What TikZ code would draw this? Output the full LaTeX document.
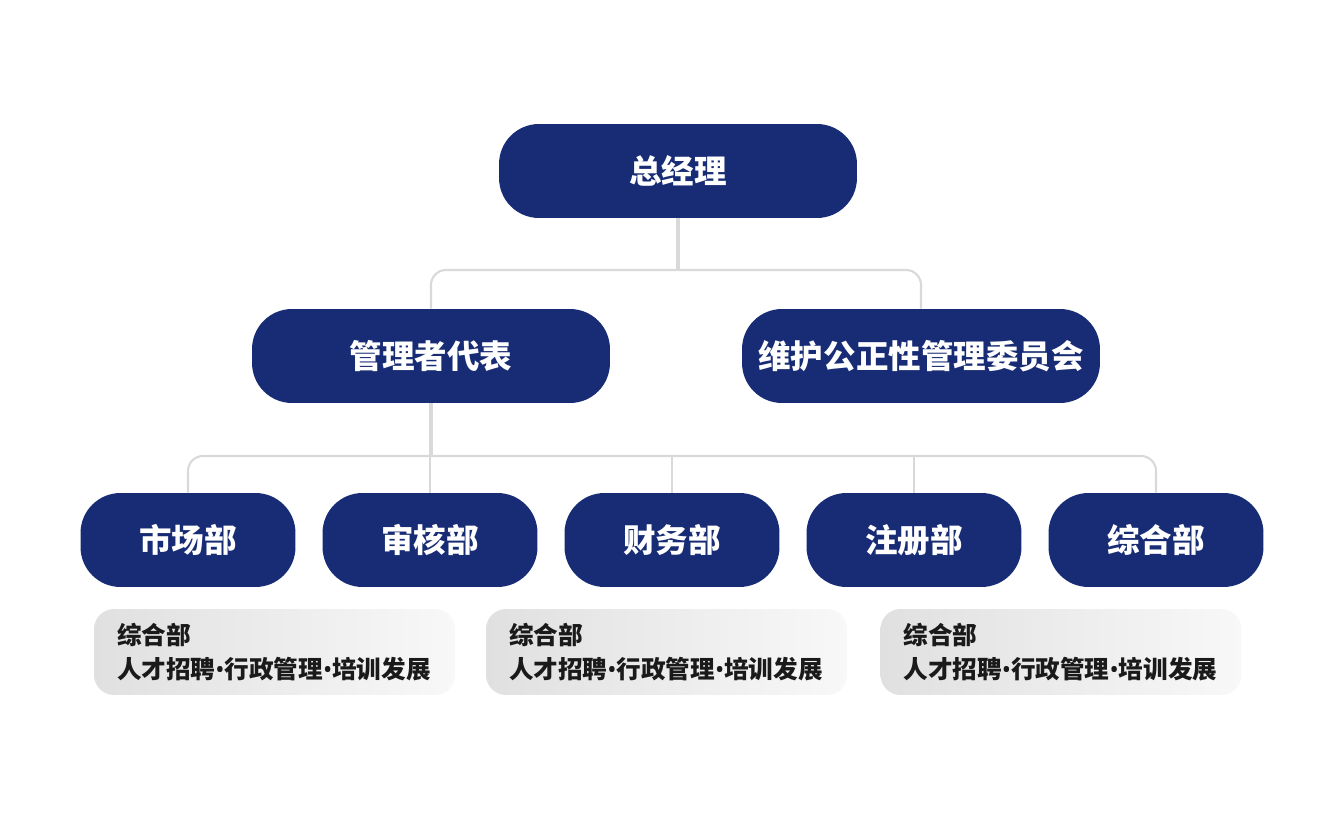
\documentclass[tikz,border=0pt]{standalone}
\usepackage{fontspec}
\newfontfamily\cjk{Noto Sans CJK SC}
\newfontfamily\latin{Noto Sans}
\newcommand{\dotsep}{{\latin\bfseries •}}
\definecolor{navyA}{RGB}{23, 44, 116}
\definecolor{lineA}{RGB}{217, 217, 217}
\definecolor{greyL}{RGB}{224, 224, 224}
\definecolor{greyR}{RGB}{248, 248, 248}
\definecolor{inkA} {RGB}{26, 26, 26}
\tikzset{
  unit/.style={rounded corners=0.8cm, fill=navyA, text=white, inner sep=0pt,
    minimum height=1.88cm, font=\cjk\bfseries\fontsize{18.5pt}{22pt}\selectfont},
  head/.style={unit, minimum width=7.16cm},
  dept/.style={unit, minimum width=4.3cm},
  note/.style={rounded corners=0.4cm, left color=greyL, right color=greyR, draw=none,
    text=inkA, minimum width=7.22cm, minimum height=1.72cm, text width=6.3cm,
    inner xsep=0.46cm, align=left, font=\cjk\bfseries\fontsize{14pt}{19pt}\selectfont},
  trunk/.style={draw=lineA, line width=2.2pt},
  bar/.style={draw=lineA, line width=1.2pt, rounded corners=0.3cm}
}
\begin{document}
\begin{tikzpicture}[x=0.02cm, y=-0.02cm]
  \useasboundingbox (0,0) rectangle (1339,818);

  \coordinate (j1) at (678, 270);
  \coordinate (j2) at (431, 456);

  \node[head] (gm)  at (678, 171) {总经理};
  \node[head] (rep) at (431, 356) {管理者代表};
  \node[head] (com) at (921, 356) {维护公正性管理委员会};

  \node[dept] (mkt) at (188, 540)  {市场部};
  \node[dept] (aud) at (430, 540)  {审核部};
  \node[dept] (fin) at (672, 540)  {财务部};
  \node[dept] (reg) at (914, 540)  {注册部};
  \node[dept] (gen) at (1156, 540) {综合部};

  \node[note] (n1) at (274.5, 652)  {综合部\\人才招聘\dotsep 行政管理\dotsep 培训发展};
  \node[note] (n2) at (666.5, 652)  {综合部\\人才招聘\dotsep 行政管理\dotsep 培训发展};
  \node[note] (n3) at (1061, 652)   {综合部\\人才招聘\dotsep 行政管理\dotsep 培训发展};

  % top level
  \draw[trunk] (gm.south) -- (j1);
  \draw[bar] (rep.north) |- (j1) -| (com.north);

  % departments
  \draw[trunk] (rep.south) -- (j2);
  \draw[bar] (mkt.north) |- (j2) -| (gen.north);
  \draw[bar] (aud.north) -- (aud.north |- j2);
  \draw[bar] (fin.north) -- (fin.north |- j2);
  \draw[bar] (reg.north) -- (reg.north |- j2);
\end{tikzpicture}
\end{document}
